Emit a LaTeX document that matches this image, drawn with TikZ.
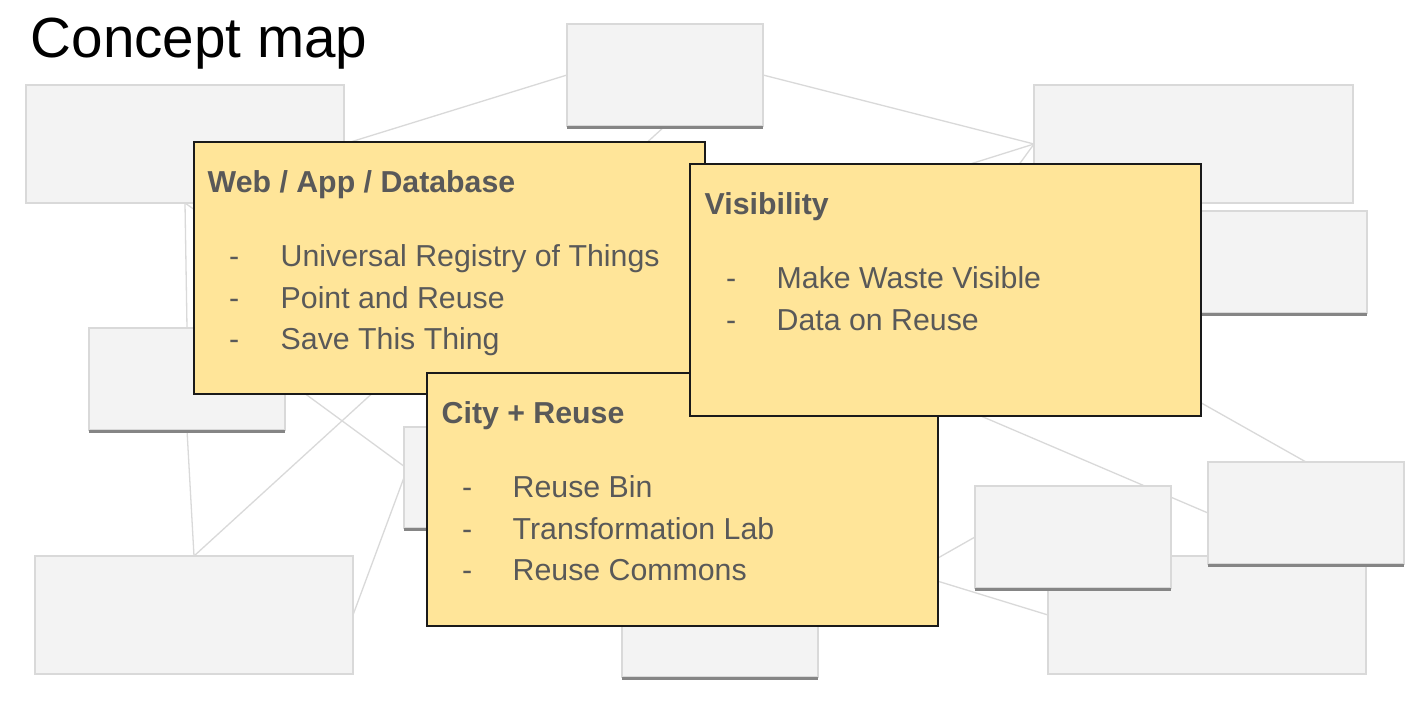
\documentclass[tikz,border=0pt]{standalone}
\usepackage{fontspec}
\setmainfont{Liberation Sans}
\usetikzlibrary{backgrounds}
\definecolor{boxfill}{HTML}{F3F3F3}
\definecolor{boxline}{HTML}{D9D9D9}
\definecolor{shadowc}{HTML}{858585}
\definecolor{sticky}{HTML}{FFE599}
\definecolor{txt}{HTML}{595959}
\definecolor{stickyline}{HTML}{1A1A1A}
\newcommand\mkshadow[1]{\fill[shadowc] ([yshift=-0.3pt]#1.south west) rectangle ([yshift=-3.3pt]#1.south east);}
\tikzset{
  gbox/.style={draw=boxline, fill=boxfill, line width=1.5pt, inner sep=0pt, outer sep=0pt},
  stickybox/.style={draw=stickyline, fill=sticky, line width=1.5pt, inner sep=0pt, outer sep=0pt,
    minimum width=511pt},
  conn/.style={draw=boxline, line width=1.3pt},
  ttl/.style={anchor=base west, inner sep=0pt, text=txt, font=\fontsize{30.3}{36}\selectfont\bfseries},
  itm/.style={anchor=base west, inner sep=0pt, text=txt, font=\fontsize{30.3}{36}\selectfont},
}
\begin{document}
\begin{tikzpicture}[x=1pt,y=-1pt]
\useasboundingbox (0,0) rectangle (1414,721);
% grey concept boxes
\node[gbox, minimum width=318pt, minimum height=118pt] (I) at (1207,615) {};
\node[gbox, minimum width=196pt, minimum height=102pt] (J) at (1073,537) {};
\mkshadow{J}
\node[gbox, minimum width=196pt, minimum height=102pt] (K) at (1306,513) {};
\mkshadow{K}
\node[gbox, minimum width=196pt, minimum height=102pt] (A) at (665,75) {};
\mkshadow{A}
\node[gbox, minimum width=318pt, minimum height=118pt] (B) at (185,144) {};
\node[gbox, minimum width=319pt, minimum height=118pt] (C) at (1193.5,144) {};
\node[gbox, minimum width=196pt, minimum height=102pt] (D) at (1269,262) {};
\mkshadow{D}
\node[gbox, minimum width=196pt, minimum height=102pt] (E) at (187,379) {};
\mkshadow{E}
\node[gbox, minimum width=196pt, minimum height=101pt] (F) at (502,477.5) {};
\mkshadow{F}
\node[gbox, minimum width=318pt, minimum height=118pt] (G) at (194,615) {};
\node[gbox, minimum width=196pt, minimum height=102pt] (H) at (720,626) {};
\mkshadow{H}
\coordinate (hid) at (900,233);
% connectors behind everything
\begin{scope}[on background layer]
\fill[white] (0,0) rectangle (1414,721);
\draw[conn] (A.west) -- (B.east);
\draw[conn] (A.east) -- (C.west);
\draw[conn] (A.south) -- (G.north);
\draw[conn] (B.south) -- (E.north);
\draw[conn] (B.south) -- (F.north);
\draw[conn] (B.east) -- (K.west);
\draw[conn] (C.west) -- (E.east);
\draw[conn] (C.west) -- (H.north);
\draw[conn] (E.south) -- (G.north);
\draw[conn] (E.east) -- (H.west);
\draw[conn] (F.west) -- (G.east);
\draw[conn] (F.east) -- (I.west);
\draw[conn] (H.east) -- (J.west);
\draw[conn] (hid) -- (K.north);
\end{scope}
% title
\node[anchor=base west, inner sep=0pt, font=\fontsize{56.6}{64}\selectfont] (title) at (30.5,57) {Concept map};
% sticky notes
\node[stickybox, minimum height=252pt] (web) at (449.5,268) {};
\node[ttl] (webt) at (207.5,192) {Web / App / Database};
\node[itm] (webd1) at (229,266) {-};
\node[itm] (webi1) at (280.5,266) {Universal Registry of Things};
\node[itm] (webd2) at (229,308) {-};
\node[itm] (webi2) at (280.5,308) {Point and Reuse};
\node[itm] (webd3) at (229,349) {-};
\node[itm] (webi3) at (280.5,349) {Save This Thing};
\node[stickybox, minimum height=253pt] (city) at (682.5,499.5) {};
\node[ttl] (cityt) at (441.5,423) {City + Reuse};
\node[itm] (cityd1) at (462,497) {-};
\node[itm] (cityi1) at (512.5,497) {Reuse Bin};
\node[itm] (cityd2) at (462,539) {-};
\node[itm] (cityi2) at (512.5,539) {Transformation Lab};
\node[itm] (cityd3) at (462,580) {-};
\node[itm] (cityi3) at (512.5,580) {Reuse Commons};
\node[stickybox, minimum height=252pt] (vis) at (945.5,290) {};
\node[ttl] (vist) at (704.5,214) {Visibility};
\node[itm] (visd1) at (726,288) {-};
\node[itm] (visi1) at (776.5,288) {Make Waste Visible};
\node[itm] (visd2) at (726,330) {-};
\node[itm] (visi2) at (776.5,330) {Data on Reuse};
\end{tikzpicture}
\end{document}
